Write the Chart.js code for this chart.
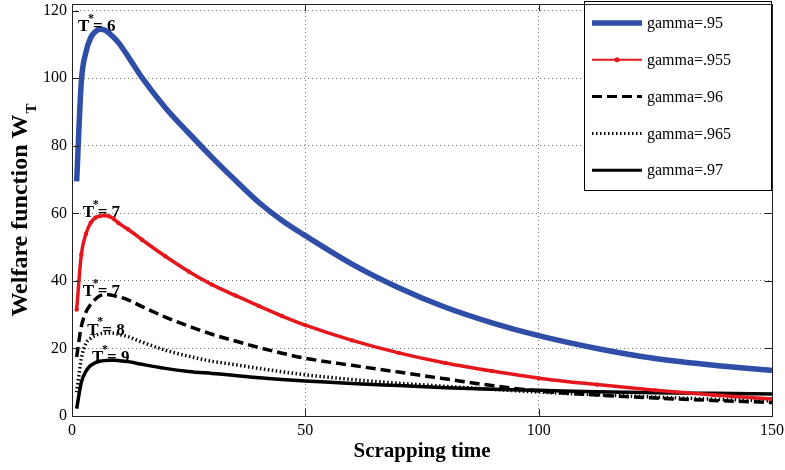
<!DOCTYPE html>
<html>
<head>
<meta charset="utf-8">
<script src="https://cdn.jsdelivr.net/npm/chart.js@4.4.1/dist/chart.umd.min.js"></script>
<style>
  html, body { margin: 0; padding: 0; background: #fff; }
  #wrap { width: 785px; height: 470px; }
</style>
</head>
<body>
<div id="wrap"><canvas id="welfareChart" width="785" height="470"></canvas></div>
<script>
// ---------- DATA ----------
const scrapTimes = [1, 2, 3, 4, 5, 6, 7, 8, 9, 10, 12, 15, 20, 25, 30, 35, 40, 45, 50, 60, 70, 80, 90, 100, 112.5, 125, 137.5, 150];

const welfare95  = [69.5, 99, 107.8, 112, 113.8, 114.5, 114.3, 113.3, 112, 110.5, 106.5, 100.2, 91.3, 83.8, 76.6, 69.8, 63.3, 57.9, 53.4, 45, 38, 32.2, 27.6, 23.8, 20, 17, 15, 13.5];
const welfare955 = [31.5, 47.8, 54, 57.2, 58.7, 59.2, 59.4, 59.1, 58.3, 57.1, 55.3, 52.2, 47.3, 42.8, 38.9, 35.7, 32.6, 29.6, 26.9, 22.4, 18.7, 15.7, 13.3, 11.2, 9.3, 7.6, 6.2, 5.0];
const welfare96  = [17.5, 26.5, 30.8, 33, 34.6, 35.6, 36, 35.9, 35.6, 35.3, 34.4, 32.4, 29.3, 26.6, 24.2, 22.2, 20.3, 18.6, 17.1, 15, 13, 11, 9, 7.4, 6.2, 5.3, 4.6, 4.0];
const welfare965 = [7, 17, 21.5, 23, 23.8, 24.3, 24.5, 24.6, 24.5, 24.2, 23.5, 21.9, 19.5, 17.7, 16.2, 15.2, 14.1, 13.1, 12.2, 10.8, 9.7, 8.8, 7.9, 7.1, 6.3, 5.6, 5.0, 4.5];
const welfare97  = [2.2, 10, 13.3, 15, 15.8, 16.2, 16.4, 16.5, 16.5, 16.4, 16.1, 15.3, 14.1, 13.2, 12.6, 12, 11.3, 10.8, 10.4, 9.6, 9, 8.4, 7.9, 7.6, 7.2, 6.9, 6.7, 6.5];

const seriesLabels = ["gamma=.95", "gamma=.955", "gamma=.96", "gamma=.965", "gamma=.97"];
const optimalT = [6, 7, 7, 8, 9];

const xTicks = [0, 50, 100, 150];
const yTicks = [0, 20, 40, 60, 80, 100, 120];

const SERIF = "'Liberation Serif', 'Times New Roman', serif";

function toPoints(values) {
  return scrapTimes.map((t, i) => ({ x: t, y: values[i] }));
}

const datasets = [
  { label: seriesLabels[0], data: toPoints(welfare95), borderColor: "#2f4ea8", borderWidth: 5.5, pointRadius: 0 },
  { label: seriesLabels[1], data: toPoints(welfare955), borderColor: "#e5171d", backgroundColor: "#e5171d",
    borderWidth: 3.5, pointRadius: 2.2, pointBorderWidth: 0, legendWidth: 2 },
  { label: seriesLabels[2], data: toPoints(welfare96), borderColor: "#000", borderWidth: 3.5, borderDash: [10, 5], pointRadius: 0, legendWidth: 3 },
  { label: seriesLabels[3], data: toPoints(welfare965), borderColor: "#000", borderWidth: 3.5, borderDash: [1.5, 2.5], pointRadius: 0, legendWidth: 3 },
  { label: seriesLabels[4], data: toPoints(welfare97), borderColor: "#000", borderWidth: 3.5, pointRadius: 0, legendWidth: 3 }
];

// ---------- PEAK LABELS (T*) ----------
const peakLabels = {
  id: "peakLabels",
  afterDatasetsDraw(chart) {
    const { ctx, scales: { x, y } } = chart;
    chart.data.datasets.forEach((ds, i) => {
      const t = optimalT[i];
      const pt = ds.data.find(p => p.x === t);
      const px = x.getPixelForValue(t) - 22;
      const py = y.getPixelForValue(pt.y) + 2;
      ctx.save();
      ctx.fillStyle = "#000";
      ctx.textBaseline = "alphabetic";
      ctx.textAlign = "left";
      ctx.font = "bold 17px " + SERIF;
      ctx.fillText("T", px, py);
      ctx.font = "bold 12px " + SERIF;
      ctx.fillText("*", px + 10, py - 9.5);
      ctx.font = "bold 17px " + SERIF;
      ctx.fillText("= " + t, px + 15, py);
      ctx.restore();
    });
  }
};

// ---------- FRAME, LEGEND, TITLES ----------
const frame = {
  id: "frame",
  afterDraw(chart) {
    const { ctx, chartArea: a, scales: { x, y } } = chart;
    ctx.save();

    // inward tick marks
    ctx.strokeStyle = "#222";
    ctx.lineWidth = 1;
    ctx.beginPath();
    yTicks.forEach(v => {
      const py = Math.round(y.getPixelForValue(v)) + 0.5;
      ctx.moveTo(a.left, py); ctx.lineTo(a.left + 7, py);
      ctx.moveTo(a.right, py); ctx.lineTo(a.right - 7, py);
    });
    xTicks.forEach(v => {
      const px = Math.round(x.getPixelForValue(v)) + 0.5;
      ctx.moveTo(px, a.bottom); ctx.lineTo(px, a.bottom - 7);
      ctx.moveTo(px, a.top); ctx.lineTo(px, a.top + 7);
    });
    ctx.stroke();

    // legend box
    const lx = 584.5, ly = 1.5, lw = 187, lh = 189;
    ctx.fillStyle = "#fff";
    ctx.fillRect(lx, ly, lw, lh);
    ctx.strokeStyle = "#000";
    ctx.strokeRect(lx, ly, lw, lh);
    chart.data.datasets.forEach((ds, i) => {
      const rowY = 23 + i * 36.8;
      ctx.save();
      ctx.strokeStyle = ds.borderColor;
      ctx.lineWidth = ds.legendWidth || ds.borderWidth;
      ctx.setLineDash(ds.borderDash || []);
      ctx.beginPath();
      ctx.moveTo(592, rowY);
      ctx.lineTo(642, rowY);
      ctx.stroke();
      if (ds.pointRadius) {
        ctx.fillStyle = ds.borderColor;
        ctx.beginPath();
        ctx.arc(617, rowY, 2.5, 0, Math.PI * 2);
        ctx.fill();
      }
      ctx.restore();
      ctx.fillStyle = "#000";
      ctx.font = "16px " + SERIF;
      ctx.textBaseline = "middle";
      ctx.textAlign = "left";
      ctx.fillText(ds.label, 647, rowY + 1);
    });

    // plot box
    ctx.strokeStyle = "#222";
    ctx.lineWidth = 1;
    ctx.strokeRect(Math.round(a.left) + 0.5, Math.round(a.top) + 0.5,
      Math.round(a.right - a.left), Math.round(a.bottom - a.top));

    // x title
    ctx.fillStyle = "#000";
    ctx.font = "bold 21px " + SERIF;
    ctx.textAlign = "center";
    ctx.textBaseline = "alphabetic";
    ctx.fillText("Scrapping time", (a.left + a.right) / 2, 457);

    // y title with subscript
    ctx.textAlign = "left";
    ctx.font = "bold 24px " + SERIF;
    const mainText = "Welfare function W";
    const mainW = ctx.measureText(mainText).width;
    ctx.font = "bold 15px " + SERIF;
    const subW = ctx.measureText("T").width;
    const total = mainW + subW + 1;
    ctx.translate(27, (a.top + a.bottom) / 2 + total / 2);
    ctx.rotate(-Math.PI / 2);
    ctx.font = "bold 24px " + SERIF;
    ctx.fillText(mainText, 0, 0);
    ctx.font = "bold 15px " + SERIF;
    ctx.fillText("T", mainW + 1, 9);

    ctx.restore();
  }
};

// ---------- CHART ----------
new Chart(document.getElementById("welfareChart"), {
  type: "line",
  data: { datasets },
  options: {
    responsive: false,
    animation: false,
    layout: { padding: { top: 1, right: 13, left: 0, bottom: 0 } },
    elements: { line: { cubicInterpolationMode: "monotone", fill: false } },
    plugins: {
      legend: { display: false },
      tooltip: { enabled: false }
    },
    scales: {
      x: {
        type: "linear",
        min: 0,
        max: 150,
        afterBuildTicks: scale => { scale.ticks = xTicks.map(v => ({ value: v })); },
        afterFit: scale => { scale.height = 54; scale.paddingLeft = 0; scale.paddingRight = 0; },
        grid: { color: "#777", lineWidth: 1, drawTicks: false },
        border: { display: false, dash: [1, 3] },
        ticks: { color: "#000", font: { family: SERIF, size: 16 }, padding: 5, maxRotation: 0 }
      },
      y: {
        type: "linear",
        min: 0,
        max: 122,
        afterBuildTicks: scale => { scale.ticks = yTicks.map(v => ({ value: v })); },
        afterFit: scale => { scale.width = 72; scale.paddingTop = 0; scale.paddingBottom = 0; },
        grid: { color: "#777", lineWidth: 1, drawTicks: false },
        border: { display: false, dash: [1, 3] },
        ticks: { color: "#000", font: { family: SERIF, size: 16 }, padding: 5 }
      }
    }
  },
  plugins: [peakLabels, frame]
});
</script>
</body>
</html>
